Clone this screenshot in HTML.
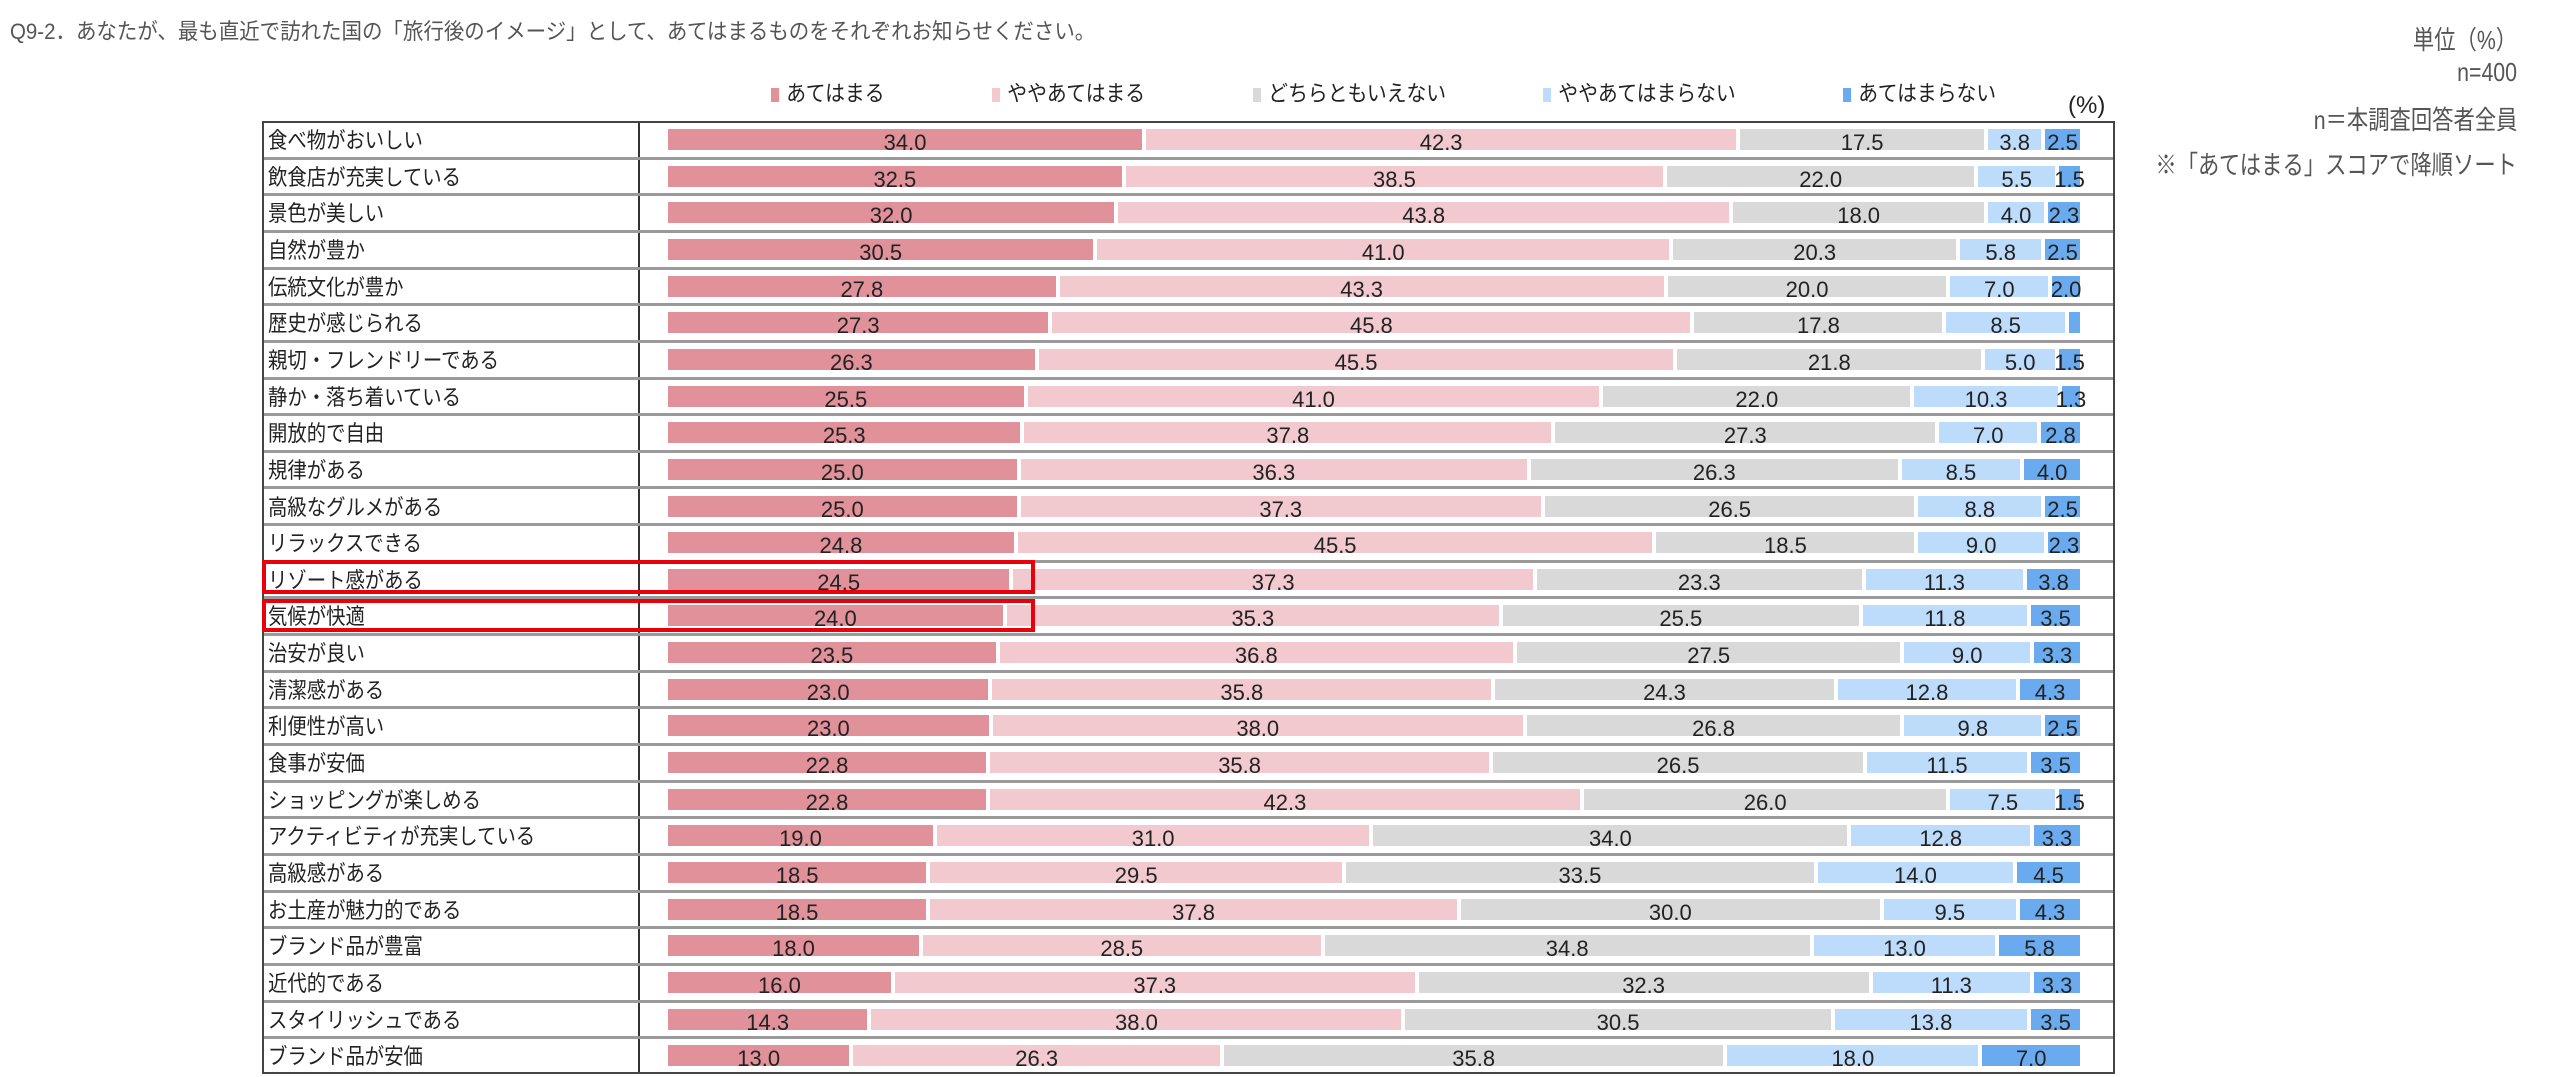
<!DOCTYPE html>
<html><head><meta charset="utf-8"><style>
body{margin:0;width:2560px;height:1077px;background:#fff;position:relative;overflow:hidden;font-family:"Liberation Sans","Noto Sans CJK JP",sans-serif;color:#222}
.t{position:absolute;white-space:nowrap}
.rt{position:absolute;right:43px;white-space:nowrap;font-size:26px;color:#555;transform:scaleX(0.82);transform-origin:right center}
.tbl{position:absolute;left:262px;top:121px;width:1853px;height:953px;border:2px solid #444;box-sizing:border-box}
.r{position:absolute;left:0;width:100%;height:36.65px;box-sizing:border-box;border-bottom:3px solid #9a9a9a}
.r:last-child{border-bottom:none}
.lb{position:absolute;left:4px;top:0;height:34px;line-height:36px;font-size:22px;white-space:nowrap;transform:scaleX(0.88);transform-origin:left center}
.bar{position:absolute;left:404px;top:6px;width:1416px;height:21px;display:flex}
.bar i{font-style:normal;flex-basis:0;flex-shrink:0;min-width:0;border-right:4px solid #fff;text-align:center;font-size:22px;line-height:27px;white-space:nowrap;display:flex;justify-content:center;overflow:visible}
.a{background:#e09199}.b{background:#f2c9cf}.c{background:#d9d9d9}.d{background:#bddbfa}.e{background:#6aabf0}
.div{position:absolute;left:374px;top:0;width:2px;height:100%;background:#333}
.box{position:absolute;border:4px solid #e8000b;box-sizing:border-box;left:262px;width:773px}
.lg{position:absolute;top:76px;font-size:22px;white-space:nowrap;transform:scaleX(0.9);transform-origin:left center}
.lg b{display:inline-block;width:9px;height:14px;margin-right:8px;vertical-align:-1px}
</style></head><body>
<div class="t" style="left:10px;top:14px;font-size:22px;color:#555;transform:scaleX(0.93);transform-origin:left center">Q9-2．あなたが、最も直近で訪れた国の「旅行後のイメージ」として、あてはまるものをそれぞれお知らせください。</div>
<div class="rt" style="top:20px">単位（%）</div>
<div class="rt" style="top:57px">n=400</div>
<div class="rt" style="top:100px">n＝本調査回答者全員</div>
<div class="rt" style="top:145px">※「あてはまる」スコアで降順ソート</div>
<div class="lg" style="left:771px"><b class="a"></b>あてはまる</div>
<div class="lg" style="left:992px"><b class="b"></b>ややあてはまる</div>
<div class="lg" style="left:1253px"><b class="c"></b>どちらともいえない</div>
<div class="lg" style="left:1543px"><b class="d"></b>ややあてはまらない</div>
<div class="lg" style="left:1843px"><b class="e"></b>あてはまらない</div>
<div class="t" style="left:2068px;top:92px;font-size:24px">(%)</div>
<div class="tbl">
<div class="div"></div>
<div class="r" style="top:0"><span class="lb">食べ物がおいしい</span><div class="bar"><i class="a" style="flex-grow:34.0">34.0</i><i class="b" style="flex-grow:42.3">42.3</i><i class="c" style="flex-grow:17.5">17.5</i><i class="d" style="flex-grow:3.8">3.8</i><i class="e" style="flex-grow:2.5">2.5</i></div></div>
<div class="r" style="top:36.65px"><span class="lb">飲食店が充実している</span><div class="bar"><i class="a" style="flex-grow:32.5">32.5</i><i class="b" style="flex-grow:38.5">38.5</i><i class="c" style="flex-grow:22.0">22.0</i><i class="d" style="flex-grow:5.5">5.5</i><i class="e" style="flex-grow:1.5">1.5</i></div></div>
<div class="r" style="top:73.3px"><span class="lb">景色が美しい</span><div class="bar"><i class="a" style="flex-grow:32.0">32.0</i><i class="b" style="flex-grow:43.8">43.8</i><i class="c" style="flex-grow:18.0">18.0</i><i class="d" style="flex-grow:4.0">4.0</i><i class="e" style="flex-grow:2.3">2.3</i></div></div>
<div class="r" style="top:109.95px"><span class="lb">自然が豊か</span><div class="bar"><i class="a" style="flex-grow:30.5">30.5</i><i class="b" style="flex-grow:41.0">41.0</i><i class="c" style="flex-grow:20.3">20.3</i><i class="d" style="flex-grow:5.8">5.8</i><i class="e" style="flex-grow:2.5">2.5</i></div></div>
<div class="r" style="top:146.6px"><span class="lb">伝統文化が豊か</span><div class="bar"><i class="a" style="flex-grow:27.8">27.8</i><i class="b" style="flex-grow:43.3">43.3</i><i class="c" style="flex-grow:20.0">20.0</i><i class="d" style="flex-grow:7.0">7.0</i><i class="e" style="flex-grow:2.0">2.0</i></div></div>
<div class="r" style="top:183.25px"><span class="lb">歴史が感じられる</span><div class="bar"><i class="a" style="flex-grow:27.3">27.3</i><i class="b" style="flex-grow:45.8">45.8</i><i class="c" style="flex-grow:17.8">17.8</i><i class="d" style="flex-grow:8.5">8.5</i><i class="e" style="flex-grow:0.8"></i></div></div>
<div class="r" style="top:219.9px"><span class="lb">親切・フレンドリーである</span><div class="bar"><i class="a" style="flex-grow:26.3">26.3</i><i class="b" style="flex-grow:45.5">45.5</i><i class="c" style="flex-grow:21.8">21.8</i><i class="d" style="flex-grow:5.0">5.0</i><i class="e" style="flex-grow:1.5">1.5</i></div></div>
<div class="r" style="top:256.55px"><span class="lb">静か・落ち着いている</span><div class="bar"><i class="a" style="flex-grow:25.5">25.5</i><i class="b" style="flex-grow:41.0">41.0</i><i class="c" style="flex-grow:22.0">22.0</i><i class="d" style="flex-grow:10.3">10.3</i><i class="e" style="flex-grow:1.3">1.3</i></div></div>
<div class="r" style="top:293.2px"><span class="lb">開放的で自由</span><div class="bar"><i class="a" style="flex-grow:25.3">25.3</i><i class="b" style="flex-grow:37.8">37.8</i><i class="c" style="flex-grow:27.3">27.3</i><i class="d" style="flex-grow:7.0">7.0</i><i class="e" style="flex-grow:2.8">2.8</i></div></div>
<div class="r" style="top:329.85px"><span class="lb">規律がある</span><div class="bar"><i class="a" style="flex-grow:25.0">25.0</i><i class="b" style="flex-grow:36.3">36.3</i><i class="c" style="flex-grow:26.3">26.3</i><i class="d" style="flex-grow:8.5">8.5</i><i class="e" style="flex-grow:4.0">4.0</i></div></div>
<div class="r" style="top:366.5px"><span class="lb">高級なグルメがある</span><div class="bar"><i class="a" style="flex-grow:25.0">25.0</i><i class="b" style="flex-grow:37.3">37.3</i><i class="c" style="flex-grow:26.5">26.5</i><i class="d" style="flex-grow:8.8">8.8</i><i class="e" style="flex-grow:2.5">2.5</i></div></div>
<div class="r" style="top:403.15px"><span class="lb">リラックスできる</span><div class="bar"><i class="a" style="flex-grow:24.8">24.8</i><i class="b" style="flex-grow:45.5">45.5</i><i class="c" style="flex-grow:18.5">18.5</i><i class="d" style="flex-grow:9.0">9.0</i><i class="e" style="flex-grow:2.3">2.3</i></div></div>
<div class="r" style="top:439.8px"><span class="lb">リゾート感がある</span><div class="bar"><i class="a" style="flex-grow:24.5">24.5</i><i class="b" style="flex-grow:37.3">37.3</i><i class="c" style="flex-grow:23.3">23.3</i><i class="d" style="flex-grow:11.3">11.3</i><i class="e" style="flex-grow:3.8">3.8</i></div></div>
<div class="r" style="top:476.45px"><span class="lb">気候が快適</span><div class="bar"><i class="a" style="flex-grow:24.0">24.0</i><i class="b" style="flex-grow:35.3">35.3</i><i class="c" style="flex-grow:25.5">25.5</i><i class="d" style="flex-grow:11.8">11.8</i><i class="e" style="flex-grow:3.5">3.5</i></div></div>
<div class="r" style="top:513.1px"><span class="lb">治安が良い</span><div class="bar"><i class="a" style="flex-grow:23.5">23.5</i><i class="b" style="flex-grow:36.8">36.8</i><i class="c" style="flex-grow:27.5">27.5</i><i class="d" style="flex-grow:9.0">9.0</i><i class="e" style="flex-grow:3.3">3.3</i></div></div>
<div class="r" style="top:549.75px"><span class="lb">清潔感がある</span><div class="bar"><i class="a" style="flex-grow:23.0">23.0</i><i class="b" style="flex-grow:35.8">35.8</i><i class="c" style="flex-grow:24.3">24.3</i><i class="d" style="flex-grow:12.8">12.8</i><i class="e" style="flex-grow:4.3">4.3</i></div></div>
<div class="r" style="top:586.4px"><span class="lb">利便性が高い</span><div class="bar"><i class="a" style="flex-grow:23.0">23.0</i><i class="b" style="flex-grow:38.0">38.0</i><i class="c" style="flex-grow:26.8">26.8</i><i class="d" style="flex-grow:9.8">9.8</i><i class="e" style="flex-grow:2.5">2.5</i></div></div>
<div class="r" style="top:623.05px"><span class="lb">食事が安価</span><div class="bar"><i class="a" style="flex-grow:22.8">22.8</i><i class="b" style="flex-grow:35.8">35.8</i><i class="c" style="flex-grow:26.5">26.5</i><i class="d" style="flex-grow:11.5">11.5</i><i class="e" style="flex-grow:3.5">3.5</i></div></div>
<div class="r" style="top:659.7px"><span class="lb">ショッピングが楽しめる</span><div class="bar"><i class="a" style="flex-grow:22.8">22.8</i><i class="b" style="flex-grow:42.3">42.3</i><i class="c" style="flex-grow:26.0">26.0</i><i class="d" style="flex-grow:7.5">7.5</i><i class="e" style="flex-grow:1.5">1.5</i></div></div>
<div class="r" style="top:696.35px"><span class="lb">アクティビティが充実している</span><div class="bar"><i class="a" style="flex-grow:19.0">19.0</i><i class="b" style="flex-grow:31.0">31.0</i><i class="c" style="flex-grow:34.0">34.0</i><i class="d" style="flex-grow:12.8">12.8</i><i class="e" style="flex-grow:3.3">3.3</i></div></div>
<div class="r" style="top:733px"><span class="lb">高級感がある</span><div class="bar"><i class="a" style="flex-grow:18.5">18.5</i><i class="b" style="flex-grow:29.5">29.5</i><i class="c" style="flex-grow:33.5">33.5</i><i class="d" style="flex-grow:14.0">14.0</i><i class="e" style="flex-grow:4.5">4.5</i></div></div>
<div class="r" style="top:769.65px"><span class="lb">お土産が魅力的である</span><div class="bar"><i class="a" style="flex-grow:18.5">18.5</i><i class="b" style="flex-grow:37.8">37.8</i><i class="c" style="flex-grow:30.0">30.0</i><i class="d" style="flex-grow:9.5">9.5</i><i class="e" style="flex-grow:4.3">4.3</i></div></div>
<div class="r" style="top:806.3px"><span class="lb">ブランド品が豊富</span><div class="bar"><i class="a" style="flex-grow:18.0">18.0</i><i class="b" style="flex-grow:28.5">28.5</i><i class="c" style="flex-grow:34.8">34.8</i><i class="d" style="flex-grow:13.0">13.0</i><i class="e" style="flex-grow:5.8">5.8</i></div></div>
<div class="r" style="top:842.95px"><span class="lb">近代的である</span><div class="bar"><i class="a" style="flex-grow:16.0">16.0</i><i class="b" style="flex-grow:37.3">37.3</i><i class="c" style="flex-grow:32.3">32.3</i><i class="d" style="flex-grow:11.3">11.3</i><i class="e" style="flex-grow:3.3">3.3</i></div></div>
<div class="r" style="top:879.6px"><span class="lb">スタイリッシュである</span><div class="bar"><i class="a" style="flex-grow:14.3">14.3</i><i class="b" style="flex-grow:38.0">38.0</i><i class="c" style="flex-grow:30.5">30.5</i><i class="d" style="flex-grow:13.8">13.8</i><i class="e" style="flex-grow:3.5">3.5</i></div></div>
<div class="r" style="top:916.25px"><span class="lb">ブランド品が安価</span><div class="bar"><i class="a" style="flex-grow:13.0">13.0</i><i class="b" style="flex-grow:26.3">26.3</i><i class="c" style="flex-grow:35.8">35.8</i><i class="d" style="flex-grow:18.0">18.0</i><i class="e" style="flex-grow:7.0">7.0</i></div></div>
</div>
<div class="box" style="top:560px;height:34px"></div>
<div class="box" style="top:599px;height:33px"></div>
</body></html>
